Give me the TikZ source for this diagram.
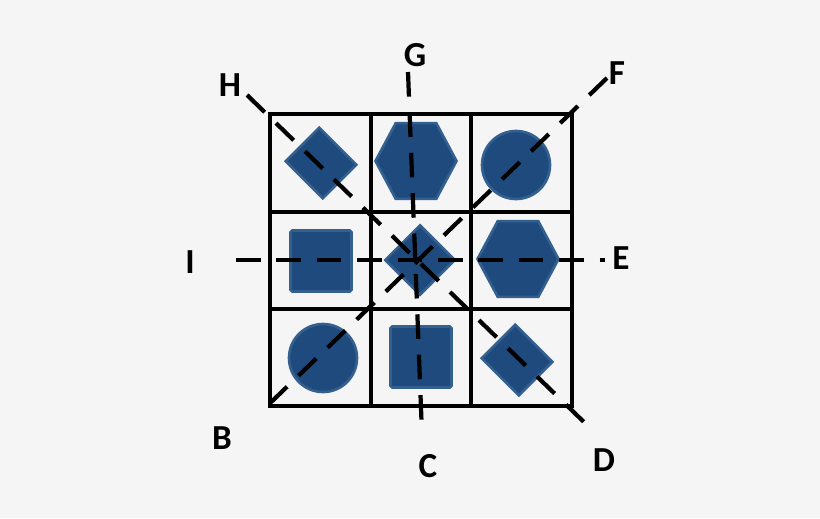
\documentclass[tikz,border=0pt]{standalone}
\usepackage{fontspec}
\setmainfont{Carlito}
\usetikzlibrary{shapes.geometric}
\definecolor{tileblue}{HTML}{1F4A7E}
\definecolor{tileedge}{HTML}{34608F}
\definecolor{pagebg}{HTML}{F5F5F5}
\tikzset{
  tile/.style={fill=tileblue, draw=tileedge, line width=1.5pt, inner sep=0pt},
  hexa/.style={tile, regular polygon, regular polygon sides=6, minimum size=1.62cm, yscale=1.08},
  roundone/.style={tile, circle, minimum size=1.36cm},
  boxone/.style={tile, rectangle, rounded corners=1pt, minimum size=1.22cm},
  slanted/.style={tile, rectangle, minimum width=1.05cm, minimum height=0.95cm, rotate=-45},
  axisline/.style={line width=2.4pt, dash pattern=on 14pt off 9pt},
  axislabel/.style={font=\bfseries\fontsize{20}{22}\selectfont},
}
\begin{document}
\begin{tikzpicture}[x=0.02cm, y=-0.02cm]
  \fill[pagebg] (0,0) rectangle (820,518);
  \useasboundingbox (0,0) rectangle (820,518);
  % shapes in the cells
  \node[slanted] (d1) at (321,163) {};
  \node[hexa] (h1) at (416,161) {};
  \node[roundone] (c1) at (516,165) {};
  \node[boxone] (s1) at (321,261) {};
  \node[tile, rectangle, minimum size=0.98cm, rotate=45] (d2) at (420,260) {};
  \node[hexa] (h2) at (518,259) {};
  \node[roundone] (c2) at (323,358) {};
  \node[boxone] (s2) at (421,357) {};
  \node[slanted] (d3) at (517,360) {};
  % grid
  \draw[line width=2pt] (270,114) rectangle (572,406);
  \draw[line width=2pt] (371,114) -- (371,406) (471,114) -- (471,406)
    (270,212) -- (572,212) (270,309) -- (572,309);
  % axes
  \coordinate (hEnd) at (247,95);  \coordinate (dEnd) at (587,425);
  \coordinate (fEnd) at (607,78);  \coordinate (bEnd) at (265,408);
  \coordinate (gEnd) at (408,72);  \coordinate (cEnd) at (422,434);
  \coordinate (iEnd) at (236,260); \coordinate (eEnd) at (605,260);
  \draw[axisline] (hEnd) -- (dEnd);
  \draw[axisline] (fEnd) -- (bEnd);
  \draw[axisline] (gEnd) -- (cEnd);
  \draw[axisline] (iEnd) -- (eEnd);
  % labels
  \node[axislabel] (G) at (415,55) {G};
  \node[axislabel] (H) at (230,85) {H};
  \node[axislabel] (F) at (617,73) {F};
  \node[axislabel] (I) at (190,262) {I};
  \node[axislabel] (E) at (621,258) {E};
  \node[axislabel] (B) at (222,438) {B};
  \node[axislabel] (C) at (428,466) {C};
  \node[axislabel] (D) at (604,460) {D};
\end{tikzpicture}
\end{document}
